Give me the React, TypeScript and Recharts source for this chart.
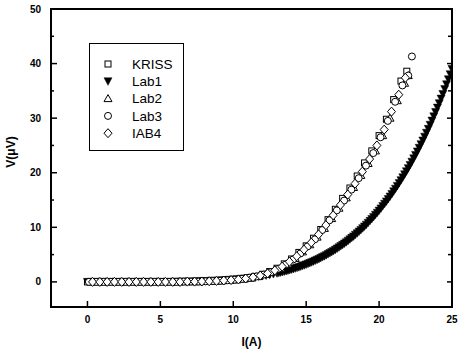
import React from 'react';
import { ScatterChart, Scatter, XAxis, YAxis, Legend, ReferenceArea } from 'recharts';

// ---- data ----
const xTicks = [0, 5, 10, 15, 20, 25];
const yTicks = [0, 5, 10, 15, 20, 25, 30, 35, 40, 45, 50];
const seriesNames = ['KRISS', 'Lab1', 'Lab2', 'Lab3', 'IAB4'];

const krissI = [0, 0.5, 1, 1.5, 2, 2.5, 3, 3.5, 4, 4.5, 5, 5.5, 6, 6.5, 7, 7.5, 8, 8.5, 9, 9.5, 10, 10.5, 11, 11.5, 12, 12.5, 13, 13.5, 14, 14.5, 15, 15.5, 16, 16.5, 17, 17.5, 18, 18.5, 19, 19.5, 20, 20.5, 21, 21.5, 21.9];
const krissV = [0, 0, 0, 0, 0, 0, 0, 0, 0, 0, 0, 0, 0, 0.05, 0.05, 0.05, 0.1, 0.15, 0.2, 0.3, 0.4, 0.55, 0.75, 1.0, 1.4, 1.9, 2.5, 3.3, 4.2, 5.4, 6.6, 8.0, 9.6, 11.4, 13.3, 15.3, 17.2, 19.4, 21.8, 24.0, 26.8, 29.8, 33.4, 36.8, 38.6];

const lab1I = [0, 0.25, 0.5, 0.75, 1, 1.25, 1.5, 1.75, 2, 2.25, 2.5, 2.75, 3, 3.25, 3.5, 3.75, 4, 4.25, 4.5, 4.75, 5, 5.25, 5.5, 5.75, 6, 6.25, 6.5, 6.75, 7, 7.25, 7.5, 7.75, 8, 8.25, 8.5, 8.75, 9, 9.25, 9.5, 9.75, 10, 10.25, 10.5, 10.75, 11, 11.25, 11.5, 11.75, 12, 12.25, 12.5, 12.75, 13, 13.25, 13.5, 13.75, 14, 14.25, 14.5, 14.75, 15, 15.25, 15.5, 15.75, 16, 16.25, 16.5, 16.75, 17, 17.25, 17.5, 17.75, 18, 18.25, 18.5, 18.75, 19, 19.25, 19.5, 19.75, 20, 20.25, 20.5, 20.75, 21, 21.25, 21.5, 21.75, 22, 22.25, 22.5, 22.75, 23, 23.25, 23.5, 23.75, 24, 24.25, 24.5, 24.75, 25];
const lab1V = [0, 0, 0, 0, 0, 0, 0, 0, 0, 0, 0, 0, 0, 0, 0, 0, 0, 0, 0, 0, 0, 0, 0, 0, 0.03, 0.04, 0.05, 0.06, 0.07, 0.09, 0.1, 0.12, 0.15, 0.17, 0.2, 0.23, 0.26, 0.3, 0.34, 0.39, 0.44, 0.49, 0.56, 0.62, 0.7, 0.78, 0.87, 0.97, 1.07, 1.18, 1.31, 1.44, 1.58, 1.74, 1.9, 2.08, 2.28, 2.48, 2.7, 2.94, 3.19, 3.46, 3.75, 4.05, 4.38, 4.72, 5.09, 5.48, 5.89, 6.33, 6.79, 7.28, 7.8, 8.34, 8.92, 9.52, 10.16, 10.83, 11.54, 12.29, 13.06, 13.89, 14.74, 15.64, 16.59, 17.59, 18.63, 19.71, 20.84, 22.03, 23.27, 24.57, 25.91, 27.32, 28.79, 30.33, 31.93, 33.58, 35.32, 37.12, 39.0];
// Lab1 is sampled more densely above 13 A
const lab1I2 = [13.125, 13.375, 13.625, 13.875, 14.125, 14.375, 14.625, 14.875, 15.125, 15.375, 15.625, 15.875, 16.125, 16.375, 16.625, 16.875, 17.125, 17.375, 17.625, 17.875, 18.125, 18.375, 18.625, 18.875, 19.125, 19.375, 19.625, 19.875, 20.125, 20.375, 20.625, 20.875, 21.125, 21.375, 21.625, 21.875, 22.125, 22.375, 22.625, 22.875, 23.125, 23.375, 23.625, 23.875, 24.125, 24.375, 24.625, 24.875];
const lab1V2 = [1.66, 1.82, 1.99, 2.18, 2.38, 2.59, 2.82, 3.06, 3.32, 3.6, 3.9, 4.21, 4.55, 4.9, 5.28, 5.68, 6.11, 6.56, 7.03, 7.54, 8.07, 8.63, 9.22, 9.84, 10.49, 11.18, 11.91, 12.67, 13.47, 14.31, 15.18, 16.11, 17.08, 18.1, 19.16, 20.27, 21.43, 22.64, 23.91, 25.23, 26.61, 28.04, 29.55, 31.12, 32.74, 34.44, 36.21, 38.05];

const lab2I = [0.25, 0.75, 1.25, 1.75, 2.25, 2.75, 3.25, 3.75, 4.25, 4.75, 5.25, 5.75, 6.25, 6.75, 7.25, 7.75, 8.25, 8.75, 9.25, 9.75, 10.25, 10.75, 11.25, 11.75, 12.25, 12.75, 13.25, 13.75, 14.25, 14.75, 15.25, 15.75, 16.25, 16.75, 17.25, 17.75, 18.25, 18.75, 19.25, 19.75, 20.25, 20.75, 21.25, 21.75, 22.0];
const lab2V = [0, 0, 0, 0, 0, 0, 0, 0, 0, 0, 0, 0, 0, 0.05, 0.05, 0.05, 0.1, 0.15, 0.2, 0.28, 0.38, 0.52, 0.7, 0.98, 1.35, 1.85, 2.5, 3.3, 4.3, 5.5, 6.8, 8.2, 9.8, 11.6, 13.5, 15.4, 17.3, 19.5, 21.7, 24.0, 26.8, 30.0, 33.2, 36.4, 37.8];

const lab3I = [0.1, 0.6, 1.1, 1.6, 2.1, 2.6, 3.1, 3.6, 4.1, 4.6, 5.1, 5.6, 6.1, 6.6, 7.1, 7.6, 8.1, 8.6, 9.1, 9.6, 10.1, 10.6, 11.1, 11.6, 12.1, 12.6, 13.1, 13.6, 14.1, 14.6, 15.1, 15.6, 16.1, 16.6, 17.1, 17.6, 18.1, 18.6, 19.1, 19.6, 20.1, 20.6, 21.1, 21.6, 22.0, 22.25];
const lab3V = [0, 0, 0, 0, 0, 0, 0, 0, 0, 0, 0, 0, 0, 0.05, 0.05, 0.05, 0.1, 0.15, 0.2, 0.3, 0.4, 0.55, 0.75, 1.0, 1.35, 1.8, 2.4, 3.2, 4.1, 5.2, 6.5, 7.8, 9.5, 11.3, 13.1, 14.9, 16.9, 19.0, 21.3, 23.6, 26.5, 29.5, 33.0, 36.0, 37.8, 41.3];

const iab4I = [0.35, 0.85, 1.35, 1.85, 2.35, 2.85, 3.35, 3.85, 4.35, 4.85, 5.35, 5.85, 6.35, 6.85, 7.35, 7.85, 8.35, 8.85, 9.35, 9.85, 10.35, 10.85, 11.35, 11.85, 12.35, 12.85, 13.35, 13.85, 14.35, 14.85, 15.35, 15.85, 16.35, 16.85, 17.35, 17.85, 18.35, 18.85, 19.35, 19.85, 20.35, 20.85, 21.35, 21.8];
const iab4V = [0, 0, 0, 0, 0, 0, 0, 0, 0, 0, 0, 0, 0, 0.05, 0.05, 0.08, 0.12, 0.18, 0.25, 0.33, 0.45, 0.62, 0.85, 1.15, 1.55, 2.1, 2.8, 3.7, 4.7, 5.9, 7.2, 8.7, 10.4, 12.2, 14.1, 16.0, 18.0, 20.2, 22.5, 25.0, 27.9, 31.2, 34.3, 37.4];

const toPoints = (I: number[], V: number[]) => I.map((x, k) => ({ i: x, v: V[k] }));

const FONT = '"Liberation Sans", Arial, sans-serif';
const X_DOMAIN: [number, number] = [-2.5, 25];
const Y_DOMAIN: [number, number] = [-4.6, 50];

const W = 459;
const H = 353;
const MARGIN = { top: 8, right: 6, left: 0, bottom: 0 };
const Y_AXIS_W = 51;
const X_AXIS_H = 46;
const MIRROR = 1;

// ---- marker shapes ----
const SquareShape = (p: any) => (
  <rect x={p.cx - 3} y={p.cy - 3} width={6} height={6} fill="#fff" stroke="#000" strokeWidth={1} />
);
const DownTri = (p: any) => (
  <polygon points={`${p.cx - 4},${p.cy - 3.5} ${p.cx + 4},${p.cy - 3.5} ${p.cx},${p.cy + 4}`} fill="#000" stroke="#000" strokeWidth={0.5} />
);
const UpTri = (p: any) => (
  <polygon points={`${p.cx},${p.cy - 4} ${p.cx - 4},${p.cy + 3} ${p.cx + 4},${p.cy + 3}`} fill="#fff" stroke="#000" strokeWidth={1} />
);
const CircleShape = (p: any) => (
  <circle cx={p.cx} cy={p.cy} r={3.5} fill="#fff" stroke="#000" strokeWidth={1} />
);
const DiamondShape = (p: any) => (
  <polygon points={`${p.cx},${p.cy - 4.5} ${p.cx + 4},${p.cy} ${p.cx},${p.cy + 4.5} ${p.cx - 4},${p.cy}`} fill="#fff" stroke="#000" strokeWidth={1} />
);
const shapes = [SquareShape, DownTri, UpTri, CircleShape, DiamondShape];

const renderLegend = () => (
  <svg width={95} height={108} style={{ display: 'block' }}>
    {seriesNames.map((name, k) => {
      const cy = 20 + k * 17.3;
      const Shape = shapes[k];
      return (
        <g key={name}>
          <Shape cx={18} cy={cy} />
          <text x={42} y={cy} dy="0.36em" fontFamily={FONT} fontSize={13.5} fill="#000">
            {name}
          </text>
        </g>
      );
    })}
  </svg>
);

// inward tick marks
const BottomTick = (props: any) => {
  const x = Number(props.x);
  const y = Number(props.y);
  return (
    <g>
      <line x1={x} y1={y} x2={x} y2={y - 6} stroke="#000" strokeWidth={1.5} />
      <text x={x} y={y + 9} dy="0.71em" textAnchor="middle" fontFamily={FONT} fontWeight="bold" fontSize={10} fill="#000">
        {props.payload.value}
      </text>
    </g>
  );
};
const TopTick = (props: any) => {
  const x = Number(props.x);
  const y = Number(props.y);
  return <line x1={x} y1={y} x2={x} y2={y + 5} stroke="#000" strokeWidth={1.5} />;
};
const LeftTick = (props: any) => {
  const x = Number(props.x);
  const y = Number(props.y);
  const v = props.payload.value;
  const major = v % 10 === 0;
  return (
    <g>
      <line x1={x} y1={y} x2={x + (major ? 6 : 3)} y2={y} stroke="#000" strokeWidth={1.5} />
      {major && (
        <text x={x - 10} y={y} dy="0.36em" textAnchor="end" fontFamily={FONT} fontWeight="bold" fontSize={10} fill="#000">
          {v}
        </text>
      )}
    </g>
  );
};
const RightTick = (props: any) => {
  const x = Number(props.x);
  const y = Number(props.y);
  const len = props.payload.value % 10 === 0 ? 5 : 4;
  return <line x1={x - len} y1={y} x2={x} y2={y} stroke="#000" strokeWidth={1.5} />;
};

export default function App() {
  const data = [
    toPoints(krissI, krissV),
    toPoints(lab1I, lab1V).concat(toPoints(lab1I2, lab1V2)),
    toPoints(lab2I, lab2V),
    toPoints(lab3I, lab3V),
    toPoints(iab4I, iab4V),
  ];
  const frame = { stroke: '#000', strokeWidth: 2 };
  return (
    <div style={{ position: 'absolute', left: 0, top: 0, width: W, height: H, background: '#fff' }}>
      <ScatterChart width={W} height={H} margin={MARGIN}>
        <XAxis
          xAxisId="b"
          dataKey="i"
          type="number"
          domain={X_DOMAIN}
          allowDataOverflow
          ticks={xTicks}
          interval={0}
          height={X_AXIS_H}
          tickSize={0}
          tickMargin={0}
          stroke="#000"
          axisLine={frame}
          tickLine={false}
          tick={(p: any) => <BottomTick {...p} />}
          label={{
            content: (p: any) => (
              <text
                x={p.viewBox.x + p.viewBox.width / 2}
                y={p.viewBox.y + 35}
                dy="0.36em"
                textAnchor="middle"
                fontFamily={FONT}
                fontWeight="bold"
                fontSize={12}
                fill="#000"
              >
                I(A)
              </text>
            ),
          }}
        />
        <XAxis
          xAxisId="t"
          orientation="top"
          type="number"
          domain={X_DOMAIN}
          allowDataOverflow
          ticks={xTicks}
          interval={0}
          height={MIRROR}
          tickSize={0}
          tickMargin={0}
          stroke="#000"
          axisLine={frame}
          tickLine={false}
          tick={(p: any) => <TopTick {...p} />}
        />
        <YAxis
          yAxisId="l"
          dataKey="v"
          type="number"
          domain={Y_DOMAIN}
          allowDataOverflow
          ticks={yTicks}
          interval={0}
          width={Y_AXIS_W}
          tickSize={0}
          tickMargin={0}
          stroke="#000"
          axisLine={frame}
          tickLine={false}
          tick={(p: any) => <LeftTick {...p} />}
          label={{
            content: (p: any) => {
              const cx = 11;
              const cy = p.viewBox.y + p.viewBox.height / 2 - 6;
              return (
                <text
                  x={cx}
                  y={cy}
                  dy="0.36em"
                  textAnchor="middle"
                  transform={`rotate(-90 ${cx} ${cy})`}
                  fontFamily={FONT}
                  fontWeight="bold"
                  fontSize={12}
                  fill="#000"
                >
                  V(μV)
                </text>
              );
            },
          }}
        />
        <YAxis
          yAxisId="r"
          orientation="right"
          type="number"
          domain={Y_DOMAIN}
          allowDataOverflow
          ticks={yTicks}
          interval={0}
          width={MIRROR}
          tickSize={0}
          tickMargin={0}
          stroke="#000"
          axisLine={frame}
          tickLine={false}
          tick={(p: any) => <RightTick {...p} />}
        />
        <ReferenceArea
          xAxisId="b"
          yAxisId="l"
          x1={X_DOMAIN[0]}
          x2={X_DOMAIN[1]}
          y1={Y_DOMAIN[0]}
          y2={Y_DOMAIN[1]}
          ifOverflow="visible"
          fill="none"
          stroke="#000"
          strokeWidth={2}
        />
        <Legend
          layout="vertical"
          align="center"
          verticalAlign="middle"
          content={renderLegend}
          wrapperStyle={{
            position: 'absolute',
            left: 89,
            top: 43,
            width: 95,
            height: 108,
            border: '1px solid #000',
            background: '#fff',
            boxSizing: 'border-box',
          }}
        />
        {data.map((d, k) => (
          <Scatter
            key={seriesNames[k]}
            name={seriesNames[k]}
            data={d}
            xAxisId="b"
            yAxisId="l"
            shape={shapes[k]}
            isAnimationActive={false}
          />
        ))}
      </ScatterChart>
    </div>
  );
}
